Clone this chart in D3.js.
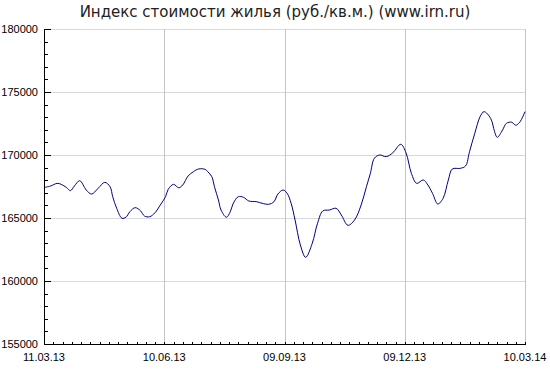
<!DOCTYPE html>
<html>
<head>
<meta charset="utf-8">
<script src="https://cdn.jsdelivr.net/npm/d3@7"></script>
<style>
  body { margin: 0; background: #fff; }
  svg { display: block; }
</style>
</head>
<body>
<svg id="chart"></svg>
<script>
const svg_width = 550;
const svg_height = 375;

var margin = { top: 29, right: 25, bottom: 31, left: 44 };

// days since 11.03.13
var days = [0, 5, 10, 13, 17, 20, 23, 27, 32, 36, 41, 46, 50, 52, 55, 59, 62, 65, 69, 73,
  76, 80, 84, 88, 92, 94, 98, 102, 105, 109, 113, 117, 122, 124, 127, 129, 132, 134, 138, 141,
  143, 147, 151, 155, 161, 165, 170, 174, 177, 181, 184, 187, 190, 194, 198, 203, 207, 211, 216, 221,
  225, 230, 235, 240, 244, 247, 250, 254, 259, 264, 270, 274, 278, 282, 287, 290, 294, 298, 302, 306,
  309, 315, 319, 322, 326, 330, 333, 338, 341, 343, 347, 350, 354, 357, 360, 364];

// rub per sq.m.
var values = [167420, 167540, 167750, 167670, 167420, 167170, 167540, 167960, 167220, 166900,
  167360, 167830, 167480, 166690, 165770, 164980, 165060, 165500, 165820, 165580,
  165160, 165100, 165420, 166030, 166690, 167280, 167670, 167400, 167620, 168330,
  168670, 168890, 168860, 168670, 168280, 167480, 166430, 165630, 165060, 165500,
  166110, 166690, 166640, 166350, 166290, 166170, 166090, 166290, 166900, 167220,
  166960, 166170, 164840, 162860, 161880, 162990, 164580, 165560, 165630, 165770,
  165240, 164420, 164840, 166030, 167480, 168550, 169740, 170000, 169870, 170180,
  170850, 170160, 168550, 167750, 168020, 167700, 166960, 166110, 166560, 168020,
  168890, 168940, 169130, 170260, 171720, 173040, 173440, 172910, 171850, 171400,
  171980, 172520, 172600, 172360, 172600, 173440];

var x_tick_labels = ["11.03.13", "10.06.13", "09.09.13", "09.12.13", "10.03.14"];
var y_ticks = [155000, 160000, 165000, 170000, 175000, 180000];

var title = "Индекс стоимости жилья (руб./кв.м.) (www.irn.ru)";

var parseLabel = d3.timeParse("%d.%m.%y");
var start = parseLabel(x_tick_labels[0]);
var end = parseLabel(x_tick_labels[x_tick_labels.length - 1]);

var data = days.map((d, i) => ({ date: d3.timeDay.offset(start, d), value: values[i] }));

var svg = d3.select("svg#chart")
    .attr("width", svg_width)
    .attr("height", svg_height);

var x = d3.scaleTime()
    .domain([start, end])
    .range([margin.left, svg_width - margin.right]);

var y = d3.scaleLinear()
    .domain([155000, 180000])
    .range([svg_height - margin.bottom, margin.top]);

var px = v => Math.round(v) + 0.5;

// grid lines
svg.append("g")
  .selectAll("line")
  .data(y_ticks.slice(1))
  .enter()
  .append("line")
  .attr("x1", margin.left)
  .attr("x2", svg_width - margin.right)
  .attr("y1", d => px(y(d)))
  .attr("y2", d => px(y(d)))
  .style("stroke", "#d9d9d9")
  .style("shape-rendering", "crispEdges");

svg.append("g")
  .selectAll("line")
  .data(x_tick_labels.slice(1))
  .enter()
  .append("line")
  .attr("x1", d => px(x(parseLabel(d))))
  .attr("x2", d => px(x(parseLabel(d))))
  .attr("y1", margin.top)
  .attr("y2", svg_height - margin.bottom)
  .style("stroke", "#c4c4c4")
  .style("shape-rendering", "crispEdges");

// y axis: major ticks inside, minor every 1000
var yAxis = d3.axisRight(y)
    .tickValues(y_ticks)
    .tickSize(6)
    .tickFormat("");

var gy = svg.append("g")
  .attr("transform", "translate(" + px(margin.left) + ",0)")
  .call(yAxis);
gy.select(".domain").remove();

svg.append("g")
  .attr("transform", "translate(" + px(margin.left) + ",0)")
  .call(d3.axisRight(y).tickValues(d3.range(155000, 180001, 1000)).tickSize(3).tickFormat(""))
  .select(".domain").remove();

svg.append("g")
  .selectAll("text")
  .data(y_ticks)
  .enter()
  .append("text")
  .attr("x", margin.left - 6)
  .attr("y", d => y(d))
  .attr("dy", "0.33em")
  .attr("text-anchor", "end")
  .style("font-family", "'Liberation Sans', Arial, sans-serif")
  .style("font-size", "11px")
  .style("fill", "#000")
  .text(d => d);

// x axis: weekly minor ticks pointing up
var gx = svg.append("g")
  .attr("transform", "translate(0," + px(svg_height - margin.bottom) + ")")
  .call(d3.axisTop(x).ticks(d3.timeMonday.every(1)).tickSize(3).tickFormat(""));
gx.select(".domain").remove();

svg.append("g")
  .selectAll("text")
  .data(x_tick_labels)
  .enter()
  .append("text")
  .attr("x", d => x(parseLabel(d)))
  .attr("y", svg_height - margin.bottom + 17)
  .attr("text-anchor", "middle")
  .style("font-family", "'Liberation Sans', Arial, sans-serif")
  .style("font-size", "11px")
  .style("fill", "#000")
  .text(d => d);

// axis lines
svg.append("line")
  .attr("x1", px(margin.left)).attr("x2", px(margin.left))
  .attr("y1", margin.top).attr("y2", px(svg_height - margin.bottom))
  .style("stroke", "#000")
  .style("shape-rendering", "crispEdges");

svg.append("line")
  .attr("x1", px(margin.left)).attr("x2", px(svg_width - margin.right))
  .attr("y1", px(svg_height - margin.bottom)).attr("y2", px(svg_height - margin.bottom))
  .style("stroke", "#000")
  .style("shape-rendering", "crispEdges");

svg.selectAll(".tick line")
  .style("stroke", "#000")
  .style("shape-rendering", "crispEdges");

// the series
var line = d3.line()
    .x(d => x(d.date))
    .y(d => y(d.value))
    .curve(d3.curveCatmullRom.alpha(0.5));

svg.append("path")
  .datum(data)
  .attr("d", line)
  .style("fill", "none")
  .style("stroke", "#000080")
  .style("stroke-width", 1);

svg.append("text")
  .attr("x", svg_width / 2)
  .attr("y", 17)
  .attr("text-anchor", "middle")
  .style("font-family", "'DejaVu Sans', Verdana, sans-serif")
  .style("font-size", "15px")
  .style("fill", "#222")
  .text(title);
</script>
</body>
</html>
